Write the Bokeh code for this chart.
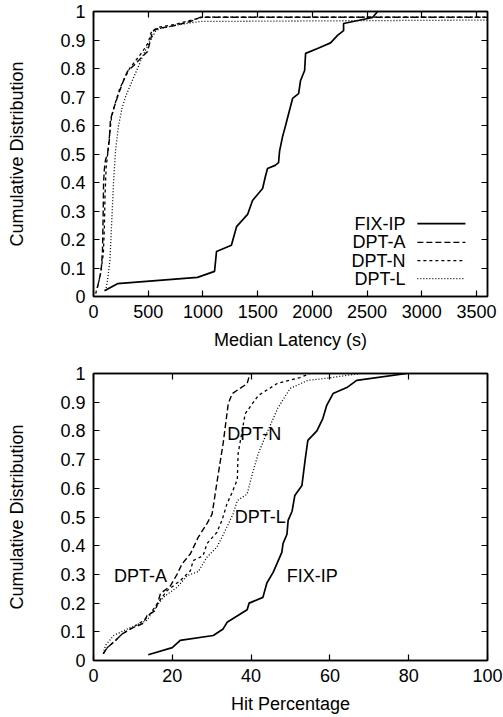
from bokeh.plotting import figure
from bokeh.layouts import column
from bokeh.models import Range1d, FixedTicker, LinearAxis, Label, CustomJSTickFormatter
from bokeh.embed import file_html
from bokeh.resources import INLINE

# ---------------- data: top panel (median latency, s) ----------------
lat_fixip_x = [100, 219, 950, 1106, 1124, 1260, 1307, 1408, 1453, 1545, 1570, 1590, 1660, 1691, 1700,
               1727, 1755, 1819, 1874, 1892, 1929, 1938, 2047, 2166, 2230, 2285, 2285, 2550, 2596]
lat_fixip_y = [0.02, 0.045, 0.067, 0.088, 0.158, 0.18, 0.245, 0.288, 0.337, 0.379, 0.42, 0.449, 0.46, 0.47, 0.51,
               0.56, 0.6, 0.695, 0.712, 0.758, 0.793, 0.853, 0.87, 0.89, 0.916, 0.933, 0.958, 0.979, 1.0]

lat_dpta_x = [35, 70, 82, 88, 92, 100, 110, 128, 145, 155, 185, 219, 274, 311, 366, 430, 494, 521, 539,
              585, 731, 887, 978, 3600]
lat_dpta_y = [0.03, 0.09, 0.16, 0.28, 0.40, 0.45, 0.48, 0.50, 0.55, 0.62, 0.66, 0.70, 0.758, 0.79, 0.81,
              0.835, 0.86, 0.90, 0.93, 0.94, 0.95, 0.965, 0.98, 0.98]

lat_dptn_x = [20, 60, 90, 100, 105, 115, 135, 150, 165, 200, 240, 290, 330, 390, 440, 500, 525, 545, 600,
              750, 900, 1000, 3600]
lat_dptn_y = [0.01, 0.07, 0.15, 0.25, 0.35, 0.45, 0.52, 0.58, 0.63, 0.68, 0.73, 0.77, 0.80, 0.83, 0.855,
              0.89, 0.925, 0.935, 0.945, 0.955, 0.97, 0.98, 0.98]

lat_dptl_x = [110, 128, 150, 165, 183, 201, 229, 260, 292, 357, 402, 457, 521, 567, 600, 800, 978, 3600]
lat_dptl_y = [0.02, 0.056, 0.126, 0.25, 0.40, 0.51, 0.60, 0.66, 0.70, 0.76, 0.80, 0.85, 0.90, 0.93, 0.94,
              0.955, 0.965, 0.97]

# ---------------- data: bottom panel (hit percentage) ----------------
hit_fixip_x = [13.9, 20, 22, 30.4, 32.9, 33.9, 39, 39.5, 43, 44, 45.6, 47.8, 48.1, 49.1, 49.4, 50.4, 51.1,
               52.9, 53.7, 54.4, 56.7, 58.2, 59.2, 60.8, 64.3, 66.8, 79.5]
hit_fixip_y = [0.02, 0.045, 0.07, 0.087, 0.11, 0.133, 0.177, 0.2, 0.22, 0.27, 0.307, 0.377, 0.407, 0.44,
               0.488, 0.52, 0.575, 0.61, 0.697, 0.767, 0.80, 0.843, 0.889, 0.93, 0.951, 0.976, 1.0]

hit_dpta_x = [2.5, 3.5, 5.6, 7.3, 9.4, 12.7, 13.6, 15.7, 17, 19.5, 21.2, 22.5, 24.6, 26.6, 28.8, 30.1,
              31.4, 32.9, 34.2, 35.2, 39, 39.7]
hit_dpta_y = [0.024, 0.045, 0.07, 0.093, 0.11, 0.13, 0.157, 0.174, 0.233, 0.26, 0.30, 0.337, 0.372, 0.43,
              0.477, 0.51, 0.627, 0.756, 0.895, 0.93, 0.965, 1.0]

hit_dptn_x = [2.5, 3.5, 5.6, 7.3, 9.4, 12.7, 14.4, 16.2, 18.7, 22, 24.6, 25.3, 27.8, 28.8, 31.3, 32.6,
              33.9, 35, 36.5, 36.7, 38.5, 41.8, 46.6, 52.4, 55]
hit_dptn_y = [0.024, 0.045, 0.07, 0.093, 0.11, 0.139, 0.163, 0.198, 0.244, 0.278, 0.313, 0.348, 0.365,
              0.407, 0.446, 0.488, 0.547, 0.58, 0.63, 0.72, 0.86, 0.923, 0.965, 0.986, 1.0]

hit_dptl_x = [2.5, 3, 5.1, 8.6, 13.6, 15.2, 17.7, 21.2, 23.8, 26.6, 28.8, 31.3, 33, 35.4, 36.5, 39, 40.3,
              41.8, 43.5, 46.8, 49.9, 54.4, 60, 67.6]
hit_dptl_y = [0.024, 0.052, 0.087, 0.11, 0.14, 0.174, 0.22, 0.255, 0.296, 0.31, 0.36, 0.395, 0.44, 0.51,
              0.557, 0.58, 0.65, 0.72, 0.777, 0.88, 0.948, 0.976, 0.985, 1.0]

series_names = ["FIX-IP", "DPT-A", "DPT-N", "DPT-L"]
y_ticks = [0, 0.1, 0.2, 0.3, 0.4, 0.5, 0.6, 0.7, 0.8, 0.9, 1]
lat_ticks = [0, 500, 1000, 1500, 2000, 2500, 3000, 3500]
hit_ticks = [0, 20, 40, 60, 80, 100]

# ---------------- styles ----------------
FONT = "Liberation Sans"
FS = "18px"
DASHES = {"FIX-IP": "solid", "DPT-A": "6 3", "DPT-N": "3 3", "DPT-L": "1 2"}
WIDTHS = {"FIX-IP": 1.7, "DPT-A": 1.4, "DPT-N": 1.3, "DPT-L": 1.3}

yfmt = CustomJSTickFormatter(code="return String(Math.round(tick*10)/10);")


def style_axis(ax, show_labels=True):
    ax.major_tick_in = 6
    ax.major_tick_out = 0
    ax.minor_tick_line_color = None
    ax.axis_line_color = "black"
    ax.axis_line_width = 1.5
    ax.major_tick_line_color = "black"
    ax.major_tick_line_width = 1.2
    ax.major_label_text_font = FONT
    ax.axis_label_text_font = FONT
    ax.axis_label_text_font_size = FS
    ax.axis_label_text_font_style = "normal"
    ax.axis_label_text_color = "black"
    ax.major_label_text_font_size = FS
    if show_labels:
        ax.major_label_text_color = "black"
    else:
        # mirror axis: ticks only, labels not drawn
        ax.major_label_text_color = None
        ax.major_label_standoff = 0


def make_fig(height, top, bottom, xmax, xticks, xlabel):
    p = figure(width=503, height=height, x_range=Range1d(0, xmax), y_range=Range1d(0, 1),
               output_backend="svg", toolbar_location=None,
               min_border_left=93, min_border_right=16, min_border_top=top, min_border_bottom=bottom)
    p.xgrid.visible = False
    p.ygrid.visible = False
    p.outline_line_color = "black"
    p.outline_line_width = 1.5
    p.background_fill_color = "white"
    p.border_fill_color = "white"

    xa = p.xaxis[0]
    xa.ticker = FixedTicker(ticks=xticks)
    xa.axis_label = xlabel
    style_axis(xa)
    xa.major_label_standoff = 8
    xa.axis_label_standoff = 9

    ya = p.yaxis[0]
    ya.ticker = FixedTicker(ticks=y_ticks)
    ya.formatter = yfmt
    ya.axis_label = "Cumulative Distribution"
    style_axis(ya)
    ya.major_label_standoff = 8
    ya.axis_label_standoff = 30

    top_ax = LinearAxis(ticker=FixedTicker(ticks=xticks))
    style_axis(top_ax, show_labels=False)
    p.add_layout(top_ax, "above")
    right_ax = LinearAxis(ticker=FixedTicker(ticks=y_ticks))
    style_axis(right_ax, show_labels=False)
    p.add_layout(right_ax, "right")
    return p


# ---------------- top figure ----------------
p1 = make_fig(358, 11, 62, 3600, lat_ticks, "Median Latency (s)")
lat_series = {
    "FIX-IP": (lat_fixip_x, lat_fixip_y),
    "DPT-A": (lat_dpta_x, lat_dpta_y),
    "DPT-N": (lat_dptn_x, lat_dptn_y),
    "DPT-L": (lat_dptl_x, lat_dptl_y),
}
for name in series_names:
    xs, ys = lat_series[name]
    p1.line(xs, ys, line_color="black", line_width=WIDTHS[name], line_dash=DASHES[name])

# manual gnuplot-style key (label left of sample), placed as fractions of the plot area
XMAX1 = 3600
key_text_right = 0.792 * XMAX1
key_line_x0 = 0.822 * XMAX1
key_line_x1 = 0.944 * XMAX1
key_rows = [0.256, 0.19, 0.126, 0.063]
for name, ky in zip(series_names, key_rows):
    p1.add_layout(Label(x=key_text_right, y=ky, text=name, text_align="right", text_baseline="middle",
                        text_font=FONT, text_font_size=FS, text_color="black"))
    p1.line([key_line_x0, key_line_x1], [ky, ky], line_color="black", line_width=WIDTHS[name],
            line_dash=DASHES[name])

# ---------------- bottom figure ----------------
p2 = make_fig(359, 15, 57, 100, hit_ticks, "Hit Percentage")
hit_series = {
    "FIX-IP": (hit_fixip_x, hit_fixip_y),
    "DPT-A": (hit_dpta_x, hit_dpta_y),
    "DPT-N": (hit_dptn_x, hit_dptn_y),
    "DPT-L": (hit_dptl_x, hit_dptl_y),
}
for name in series_names:
    xs, ys = hit_series[name]
    p2.line(xs, ys, line_color="black", line_width=WIDTHS[name], line_dash=DASHES[name])

annot_pos = {"FIX-IP": (55.5, 0.296), "DPT-A": (11.9, 0.296), "DPT-N": (40.8, 0.79), "DPT-L": (42.3, 0.50)}
for name in series_names:
    ax_, ay_ = annot_pos[name]
    p2.add_layout(Label(x=ax_, y=ay_, text=name, text_align="center", text_baseline="middle",
                        text_font=FONT, text_font_size=FS, text_color="black"))

layout = column(p1, p2, spacing=0)
open("out.html", "w").write(file_html(layout, INLINE))
